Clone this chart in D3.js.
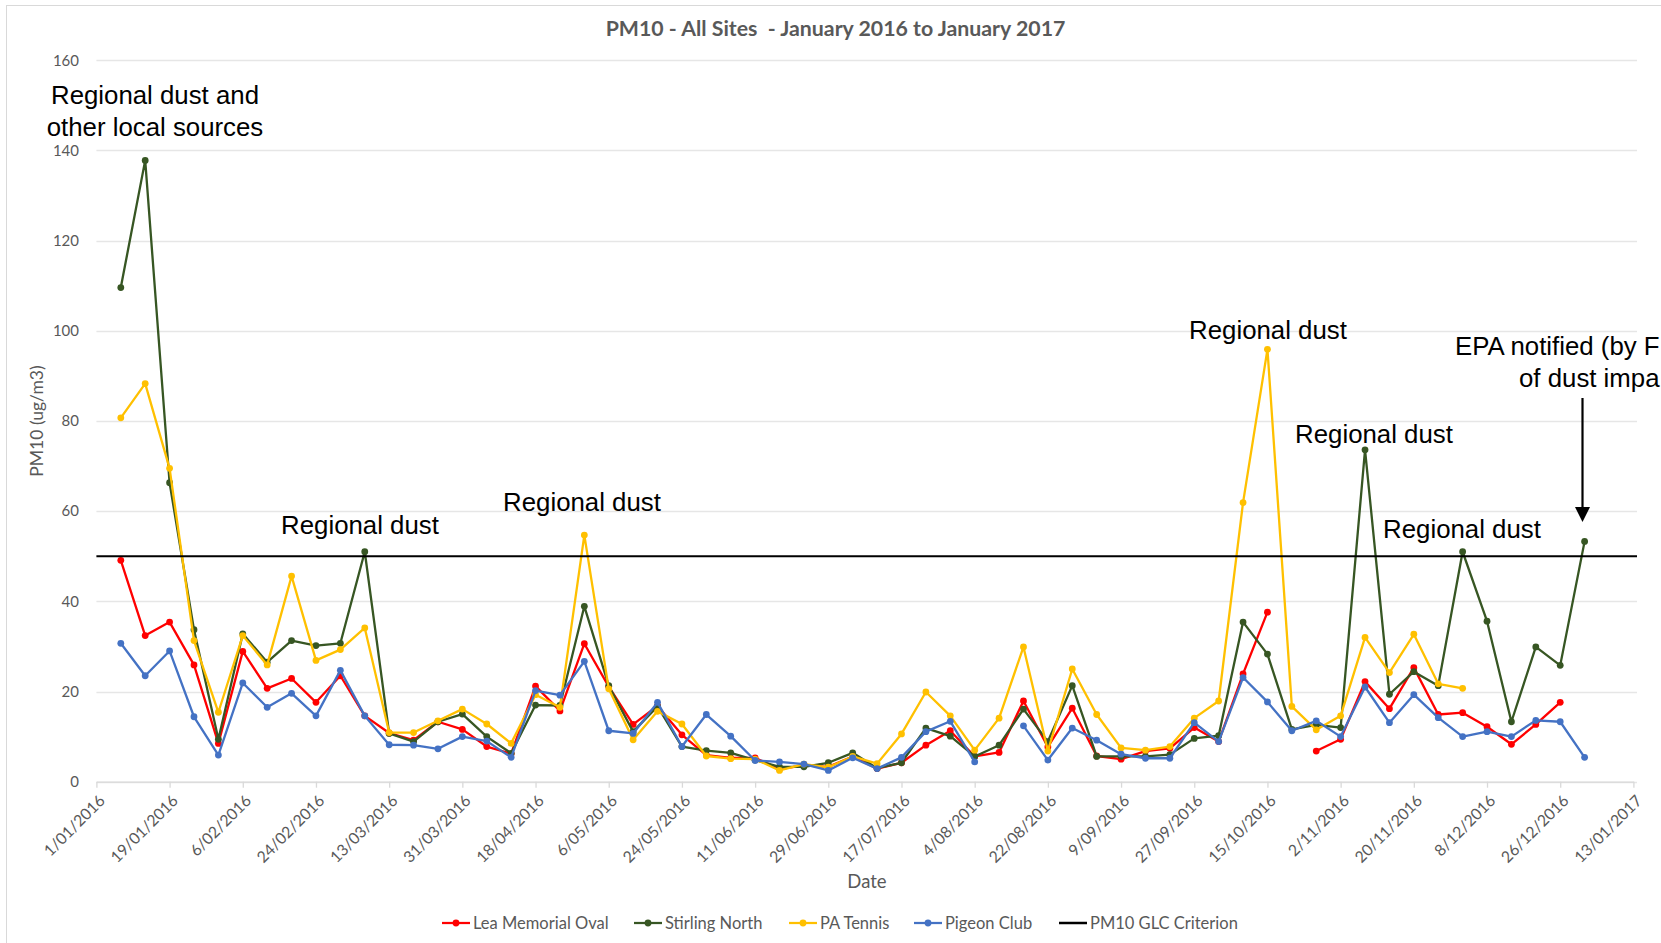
<!DOCTYPE html>
<html><head><meta charset="utf-8">
<script src="https://cdn.jsdelivr.net/npm/d3@7"></script>
<style>body{margin:0;background:#fff;overflow:hidden}svg{display:block}</style>
</head><body>
<svg id="chart" width="1661" height="943"></svg>
<script>
// ---------- data ----------
const sampleDates = [
 "2016-01-07","2016-01-13","2016-01-19","2016-01-25","2016-01-31",
 "2016-02-06","2016-02-12","2016-02-18","2016-02-24",
 "2016-03-01","2016-03-07","2016-03-13","2016-03-19","2016-03-25","2016-03-31",
 "2016-04-06","2016-04-12","2016-04-18","2016-04-24","2016-04-30",
 "2016-05-06","2016-05-12","2016-05-18","2016-05-24","2016-05-30",
 "2016-06-05","2016-06-11","2016-06-17","2016-06-23","2016-06-29",
 "2016-07-05","2016-07-11","2016-07-17","2016-07-23","2016-07-29",
 "2016-08-04","2016-08-10","2016-08-16","2016-08-22","2016-08-28",
 "2016-09-03","2016-09-09","2016-09-15","2016-09-21","2016-09-27",
 "2016-10-03","2016-10-09","2016-10-15","2016-10-21","2016-10-27",
 "2016-11-02","2016-11-08","2016-11-14","2016-11-20","2016-11-26",
 "2016-12-02","2016-12-08","2016-12-14","2016-12-20","2016-12-26",
 "2017-01-01"];

const leaMemorialOval = [49.1,32.4,35.4,25.9,8.5, 28.9,20.7,22.9,17.6, 23.5,14.6,10.8,9.2,13.3,11.6,
 7.8,6.2,21.2,15.7,30.6, 21.1,12.7,16.8,10.4,5.9, 5.3,5.3,2.8,3.6,3.3, 5.6,2.9,4.2,8.1,11.3,
 5.6,6.5,17.9,7.7,16.3, 5.7,5.0,6.8,7.4,12.0, 8.9,23.9,37.6,null,6.8, 9.4,22.2,16.2,25.3,14.9,
 15.3,12.2,8.3,12.7,17.6, null];

const stirlingNorth = [109.6,137.8,66.3,33.7,9.4, 32.8,26.5,31.3,30.2, 30.7,51.0,10.7,8.9,13.3,15.0,
 10.0,6.3,17.0,16.9,38.9, 21.3,11.1,16.7,7.8,6.9, 6.4,4.8,3.3,3.3,4.2, 6.4,3.0,4.2,11.9,10.1,
 5.6,8.1,16.1,8.9,21.3, 5.6,5.6,5.6,6.0,9.6, 10.2,35.4,28.3,11.6,12.6, 12.0,73.6,19.4,24.4,21.3,
 51.0,35.6,13.3,29.9,25.8, 53.3];

const paTennis = [80.7,88.3,69.5,31.3,15.4, 32.4,25.9,45.6,26.9, 29.3,34.1,10.9,10.9,13.5,16.1,
 12.8,8.5,19.3,16.5,54.7, 20.6,9.3,15.6,12.8,5.7, 5.1,5.0,2.5,3.9,3.2, 5.6,4.0,10.6,19.9,14.6,
 7.0,14.1,29.9,6.8,25.0, 14.9,7.5,7.0,7.8,14.1, 17.9,61.9,95.9,16.7,11.5, 14.6,32.0,24.2,32.7,21.7,
 20.7,null,null,null,null, null];

const pigeonClub = [30.7,23.5,29.0,14.4,5.9, 21.9,16.5,19.6,14.6, 24.7,14.6,8.2,8.1,7.3,10.0,
 9.0,5.4,20.2,19.2,26.7, 11.3,10.7,17.6,7.8,14.9, 10.1,4.7,4.4,3.9,2.5, 5.3,2.9,5.4,11.1,13.4,
 4.4,null,12.4,4.8,11.9, 9.2,6.1,5.2,5.2,13.1, 8.9,23.1,17.7,11.3,13.5, 10.0,21.0,13.1,19.3,14.2,
 10.0,11.1,10.0,13.6,13.3, 5.4];

const criterionValue = 50;
const seriesNames = ["Lea Memorial Oval","Stirling North","PA Tennis","Pigeon Club","PM10 GLC Criterion"];
const seriesColors = ["#FF0000","#375623","#FFC000","#4472C4","#000000"];
const yTickValues = [0,20,40,60,80,100,120,140,160];
const xTickLabels = ["1/01/2016","19/01/2016","6/02/2016","24/02/2016","13/03/2016","31/03/2016",
 "18/04/2016","6/05/2016","24/05/2016","11/06/2016","29/06/2016","17/07/2016","4/08/2016",
 "22/08/2016","9/09/2016","27/09/2016","15/10/2016","2/11/2016","20/11/2016","8/12/2016",
 "26/12/2016","13/01/2017"];

const annotations = [
 {lines:["Regional dust and","other local sources"], x:155, y:104},
 {lines:["Regional dust"], x:360, y:534},
 {lines:["Regional dust"], x:582, y:511},
 {lines:["Regional dust"], x:1268, y:339},
 {lines:["Regional dust"], x:1374, y:443},
 {lines:["Regional dust"], x:1462, y:538}
];

// ---------- layout ----------
const svg = d3.select("#chart");
const parse = d3.timeParse("%Y-%m-%d");
const parseTick = d3.timeParse("%d/%m/%Y");
const left = 96.4, right = 1633.4, gridRight = 1637;
const x = d3.scaleTime().domain([parseTick(xTickLabels[0]), parseTick(xTickLabels[xTickLabels.length-1])]).range([left, right]);
const y = d3.scaleLinear().domain([0,160]).range([781.7, 60.3]);

const grey = "#595959";
const FONT = "Lato, 'Open Sans', sans-serif";
const ARIAL = "'Liberation Sans', Arial, sans-serif";

// chart border
svg.append("rect").attr("x",6.5).attr("y",5.5).attr("width",1720).attr("height",1000)
  .attr("fill","#fff").attr("stroke","#D9D9D9").attr("stroke-width",1);

// gridlines
svg.append("g").selectAll("line").data(yTickValues).join("line")
  .attr("x1",left).attr("x2",gridRight)
  .attr("y1",d=>Math.round(y(d))+0.5).attr("y2",d=>Math.round(y(d))+0.5)
  .attr("stroke","#E6E6E6").attr("stroke-width",1.3);

// y tick labels
svg.append("g").selectAll("text").data(yTickValues).join("text")
  .attr("x",79).attr("y",d=>y(d)).attr("dy","0.35em")
  .attr("text-anchor","end").attr("fill",grey)
  .style("font-family",FONT).style("font-size","15px").text(d=>d);

// x axis ticks
const xTickDates = xTickLabels.map(parseTick);
const fmt = d3.timeFormat("%-d/%m/%Y");
const xAxis = d3.axisBottom(x).tickValues(xTickDates).tickFormat(fmt).tickSize(6).tickSizeOuter(0);
const gx = svg.append("g").attr("transform",`translate(0,${y(0)})`).call(xAxis);
gx.select(".domain").attr("stroke","#D9D9D9").attr("stroke-width",1.3);
gx.selectAll(".tick line").attr("stroke","#D9D9D9").attr("stroke-width",1.3);
gx.selectAll(".tick text")
  .attr("fill",grey).style("font-family",FONT).style("font-size","15.8px")
  .attr("text-anchor","end").attr("x",0).attr("y",0).attr("dy",0)
  .attr("transform","translate(9,20) rotate(-45)");

// axis titles
svg.append("text").attr("x",867).attr("y",888).attr("text-anchor","middle")
  .attr("fill",grey).style("font-family",FONT).style("font-size","18.5px").text("Date");
svg.append("text").attr("transform","translate(43,421) rotate(-90)").attr("text-anchor","middle")
  .attr("fill",grey).style("font-family",FONT).style("font-size","17.5px").text("PM10 (ug/m3)");

// title
svg.append("text").attr("x",835.5).attr("y",36).attr("text-anchor","middle")
  .attr("fill",grey).style("font-family",FONT).style("font-size","21.3px").style("font-weight","bold")
  .attr("xml:space","preserve").style("white-space","pre")
  .text("PM10 - All Sites  - January 2016 to January 2017");

// series
const dates = sampleDates.map(parse);
const seriesData = [leaMemorialOval, stirlingNorth, paTennis, pigeonClub];
const line = d3.line().defined(d=>d.v!=null).x(d=>x(d.date)).y(d=>y(d.v));
seriesData.forEach((vals,i)=>{
  const pts = vals.map((v,j)=>({date:dates[j], v}));
  const g = svg.append("g");
  g.append("path").datum(pts).attr("d",line).attr("fill","none")
    .attr("stroke",seriesColors[i]).attr("stroke-width",2.3).attr("stroke-linejoin","round");
  g.selectAll("circle").data(pts.filter(d=>d.v!=null)).join("circle")
    .attr("cx",d=>x(d.date)).attr("cy",d=>y(d.v)).attr("r",3.4).attr("fill",seriesColors[i]);
});

// criterion line
svg.append("line").attr("x1",left).attr("x2",gridRight)
  .attr("y1",y(criterionValue)).attr("y2",y(criterionValue))
  .attr("stroke","#000").attr("stroke-width",2);

// annotations
annotations.forEach(a=>{
  const t = svg.append("text").attr("text-anchor","middle").attr("fill","#000")
    .style("font-family",ARIAL).style("font-size","25.8px");
  a.lines.forEach((l,i)=>t.append("tspan").attr("x",a.x).attr("y",a.y+i*32).text(l));
});
// EPA note (cut by the picture edge)
svg.append("text").attr("x",1455).attr("y",355).attr("fill","#000")
  .style("font-family",ARIAL).style("font-size","25.8px").text("EPA notified (by F");
svg.append("text").attr("x",1519).attr("y",387).attr("fill","#000")
  .style("font-family",ARIAL).style("font-size","25.8px").text("of dust impa");
// arrow
svg.append("line").attr("x1",1582.5).attr("x2",1582.5).attr("y1",398).attr("y2",510)
  .attr("stroke","#000").attr("stroke-width",2.2);
svg.append("path").attr("d","M1575,507 L1590,507 L1582.5,522 Z").attr("fill","#000");

// legend
const legendX = [442, 634, 789, 914, 1059];
const lg = svg.append("g");
seriesNames.forEach((n,i)=>{
  const gx0 = legendX[i], ly = 923;
  lg.append("line").attr("x1",gx0).attr("x2",gx0+28).attr("y1",ly).attr("y2",ly)
    .attr("stroke",seriesColors[i]).attr("stroke-width",i===4?2.5:2.25);
  if(i<4) lg.append("circle").attr("cx",gx0+14).attr("cy",ly).attr("r",3.4).attr("fill",seriesColors[i]);
  lg.append("text").attr("x",gx0+31).attr("y",ly).attr("dy","0.35em").attr("fill",grey)
    .style("font-family",FONT).style("font-size","16.5px").text(n);
});
</script>
</body></html>
